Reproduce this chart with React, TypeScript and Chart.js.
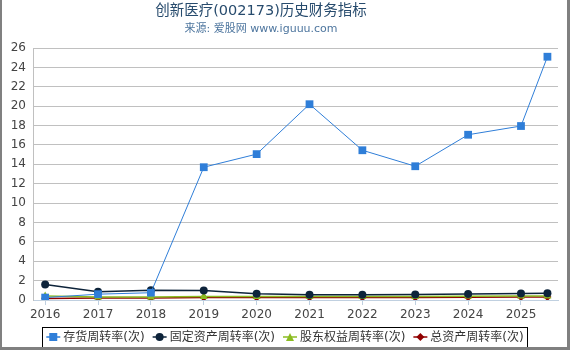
import { useEffect, useRef } from "react";
import { Chart, registerables } from "chart.js";
Chart.register(...registerables);

const titleText = "创新医疗(002173)历史财务指标";
const subtitleText = "来源: 爱股网 www.iguuu.com";
const yearTicks = [2016, 2017, 2018, 2019, 2020, 2021, 2022, 2023, 2024, 2025];
const xValues = [2016, 2017, 2018, 2019, 2020, 2021, 2022, 2023, 2024, 2025, 2025.5];
const inventoryTurnover = [0.25, 0.6, 0.75, 13.7, 15.05, 20.2, 15.45, 13.8, 17.05, 17.95, 25.1];
const fixedAssetTurnover = [1.6, 0.85, 1.0, 0.98, 0.65, 0.55, 0.55, 0.58, 0.62, 0.68, 0.7];
const equityTurnover = [0.4, 0.3, 0.3, 0.35, 0.35, 0.35, 0.35, 0.35, 0.38, 0.4, 0.4];
const totalAssetTurnover = [0.15, 0.2, 0.2, 0.25, 0.25, 0.25, 0.25, 0.25, 0.28, 0.3, 0.3];
const seriesNames = ["存货周转率(次)", "固定资产周转率(次)", "股东权益周转率(次)", "总资产周转率(次)"];
const seriesColors = ["#2f7ed8", "#0d233a", "#8bbc21", "#910000"];
const seriesStyles = ["rect", "circle", "triangle", "rectRot"];

const FONT = '"DejaVu Sans", "Noto Sans CJK SC", sans-serif';

function drawMarker(ctx: CanvasRenderingContext2D, style: string, x: number, y: number, color: string) {
  ctx.fillStyle = color;
  ctx.beginPath();
  if (style === "rect") {
    ctx.rect(x - 4, y - 4, 8, 8);
  } else if (style === "circle") {
    ctx.arc(x, y, 4, 0, Math.PI * 2);
  } else if (style === "triangle") {
    ctx.moveTo(x, y - 4);
    ctx.lineTo(x + 4, y + 4);
    ctx.lineTo(x - 4, y + 4);
    ctx.closePath();
  } else {
    ctx.moveTo(x, y - 4);
    ctx.lineTo(x + 4, y);
    ctx.lineTo(x, y + 4);
    ctx.lineTo(x - 4, y);
    ctx.closePath();
  }
  ctx.fill();
}

const decorPlugin = {
  id: "decor",
  afterDraw(chart: any) {
    const ctx: CanvasRenderingContext2D = chart.ctx;
    ctx.save();
    // titles
    ctx.textAlign = "center";
    ctx.textBaseline = "middle";
    ctx.fillStyle = "#274b6d";
    ctx.font = `14.5px ${FONT}`;
    ctx.fillText(titleText, 261, 11);
    ctx.fillStyle = "#4d759e";
    ctx.font = `11px ${FONT}`;
    ctx.fillText(subtitleText, 261, 29);

    // legend
    ctx.font = `12px ${FONT}`;
    const gap = 8;
    const widths = seriesNames.map((n) => 17 + ctx.measureText(n).width);
    const total = widths.reduce((a, b) => a + b, 0) + gap * (widths.length - 1);
    let x0 = 285 - total / 2;
    const ly = 337;
    ctx.textAlign = "left";
    ctx.textBaseline = "middle";
    seriesNames.forEach((name, i) => {
      ctx.strokeStyle = seriesColors[i];
      ctx.lineWidth = 1.5;
      ctx.beginPath();
      ctx.moveTo(x0, ly);
      ctx.lineTo(x0 + 14, ly);
      ctx.stroke();
      drawMarker(ctx, seriesStyles[i], x0 + 7, ly, seriesColors[i]);
      ctx.fillStyle = "#333333";
      ctx.fillText(name, x0 + 17, ly + 0.5);
      x0 += widths[i] + gap;
    });
    ctx.strokeStyle = "#000000";
    ctx.lineWidth = 1;
    ctx.strokeRect(42.5, 327.5, 485, 20);

    // frame
    ctx.fillStyle = "#808080";
    ctx.fillRect(0, 0, 2, 350);
    ctx.fillRect(567, 0, 3, 350);
    ctx.fillRect(0, 347, 570, 3);
    ctx.restore();
  },
};

export default function App() {
  const ref = useRef<HTMLCanvasElement>(null);
  useEffect(() => {
    document.body.style.margin = "0";
    if (!ref.current) return;
    const data = [inventoryTurnover, fixedAssetTurnover, equityTurnover, totalAssetTurnover];
    const chart = new Chart(ref.current, {
      type: "line",
      data: {
        datasets: data.map((vals, i) => ({
          label: seriesNames[i],
          data: vals.map((v, j) => ({ x: xValues[j], y: v })),
          borderColor: seriesColors[i],
          backgroundColor: seriesColors[i],
          borderWidth: i === 0 ? 1 : 1.5,
          pointStyle: seriesStyles[i] as any,
          pointRadius: i === 0 ? 5.5 : i === 2 ? 4.6 : 4,
          pointBorderWidth: 0,
          pointHoverRadius: 4,
          tension: 0,
        })),
      },
      plugins: [decorPlugin],
      options: {
        animation: false,
        responsive: false,
        layout: { padding: { left: 0, right: 12, top: 48, bottom: 28 } },
        plugins: { legend: { display: false }, title: { display: false }, tooltip: { enabled: false } },
        scales: {
          x: {
            type: "linear",
            min: 2015.77,
            max: 2025.7,
            afterBuildTicks: (s: any) => {
              s.ticks = yearTicks.map((v) => ({ value: v }));
            },
            afterFit: (s: any) => {
              s.height = 22;
            },
            grid: { drawOnChartArea: false, drawTicks: true, tickLength: 5, color: "#C0D0E0" },
            border: { display: true, color: "#C0D0E0" },
            ticks: {
              autoSkip: false,
              maxRotation: 0,
              padding: 3,
              color: "#444444",
              font: { family: FONT, size: 12 },
              callback: (v: any) => String(v),
            },
          },
          y: {
            min: 0,
            max: 26,
            afterFit: (s: any) => {
              s.width = 33;
            },
            grid: { color: "#C0C0C0", drawTicks: false },
            border: { display: true, color: "#C0C0C0" },
            ticks: {
              stepSize: 2,
              padding: 7,
              color: "#444444",
              font: { family: FONT, size: 12 },
            },
          },
        },
      },
    });
    return () => chart.destroy();
  }, []);
  return <canvas ref={ref} width={570} height={350} style={{ display: "block" }} />;
}
